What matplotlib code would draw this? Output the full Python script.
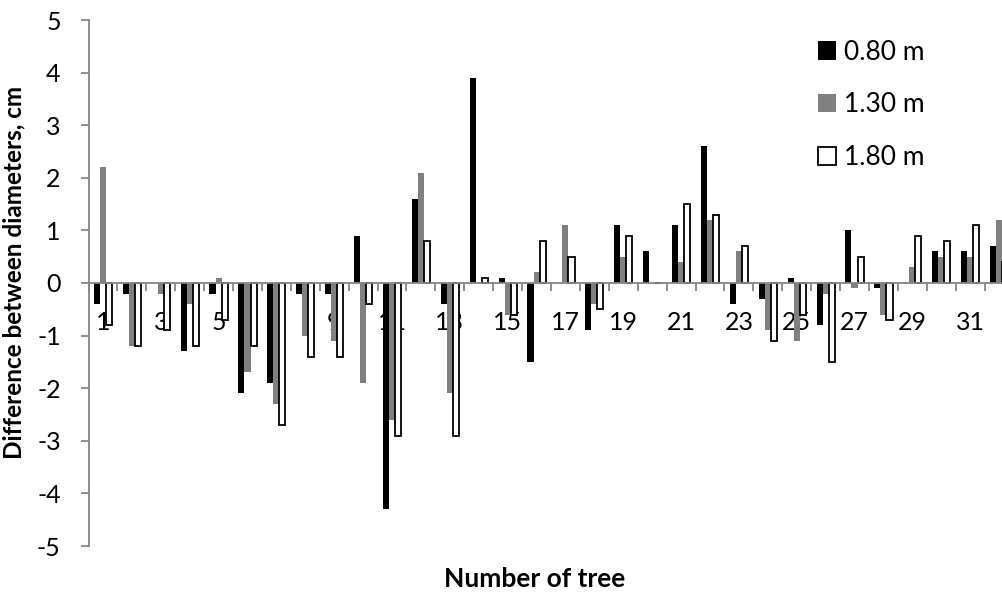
import numpy as np
import matplotlib.pyplot as plt
from matplotlib.ticker import FixedLocator, NullFormatter

plt.rcParams['font.family'] = ['Lato', 'DejaVu Sans']
plt.rcParams['axes.unicode_minus'] = False

trees = list(range(1, 33))
d080 = [-0.4, -0.2, 0.0, -1.3, -0.2, -2.1, -1.9, -0.2, -0.2, 0.9,
        -4.3, 1.6, -0.4, 3.9, 0.1, -1.5, 0.0, -0.9, 1.1, 0.6,
        1.1, 2.6, -0.4, -0.3, 0.1, -0.8, 1.0, -0.1, 0.0, 0.6,
        0.6, 0.7]
d130 = [2.2, -1.2, -0.2, -0.4, 0.1, -1.7, -2.3, -1.0, -1.1, -1.9,
        -2.6, 2.1, -2.1, 0.0, -0.6, 0.2, 1.1, -0.4, 0.5, 0.0,
        0.4, 1.2, 0.6, -0.9, -1.1, -0.2, -0.1, -0.6, 0.3, 0.5,
        0.5, 1.2]
d180 = [-0.8, -1.2, -0.9, -1.2, -0.7, -1.2, -2.7, -1.4, -1.4, -0.4,
        -2.9, 0.8, -2.9, 0.1, -0.6, 0.8, 0.5, -0.5, 0.9, 0.0,
        1.5, 1.3, 0.7, -1.1, -0.6, -1.5, 0.5, -0.7, 0.9, 0.8,
        1.1, 0.4]
tick_labels = [str(t) for t in trees if t % 2 == 1]

fig = plt.figure(figsize=(10.03, 5.94), dpi=100)
# axes run a bit past the right edge, like the cropped original
ax = fig.add_axes([88.5 / 1003, 1 - 546 / 594, 925 / 1003, 526 / 594])

x = np.array(trees, dtype=float)
w = 0.21
ax.bar(x - w, d080, w, color='black', label='0.80 m', zorder=2)
ax.bar(x, d130, w, color='#808080', label='1.30 m', zorder=2)
ax.bar(x + w, d180, w, color='white', edgecolor='black', linewidth=1.3,
       label='1.80 m', zorder=2)

ax.set_xlim(0.5, 32.5)
ax.set_ylim(-5, 5)
ax.set_yticks(range(-5, 6))
ax.tick_params(axis='y', direction='out', length=6, color='#868686',
               width=1.3, labelsize=18, pad=14)

for s in ['top', 'right']:
    ax.spines[s].set_visible(False)
ax.spines['left'].set_color('#868686')
ax.spines['left'].set_linewidth(1.3)
ax.spines['bottom'].set_position(('data', 0))
ax.spines['bottom'].set_color('#868686')
ax.spines['bottom'].set_linewidth(1.3)
ax.spines['bottom'].set_zorder(3)

ax.xaxis.set_major_locator(FixedLocator([t for t in trees if t % 2 == 1]))
ax.set_xticklabels(tick_labels)
ax.xaxis.set_minor_locator(FixedLocator(np.arange(0.5, 33, 1)))
ax.xaxis.set_minor_formatter(NullFormatter())
ax.tick_params(axis='x', which='major', length=0, labelsize=18, pad=20)
ax.tick_params(axis='x', which='minor', direction='out', length=6,
               color='#868686', width=1.3)

ax.set_ylabel('Difference between diameters, cm', fontsize=17.5,
              fontweight='bold')
ax.yaxis.set_label_coords(-0.068, 0.52)
ax.set_xlabel('Number of tree', fontsize=19, fontweight='bold')
ax.xaxis.set_label_coords((535 - 88.5) / 925, -0.04)

leg = ax.legend(loc='upper left', bbox_to_anchor=(794 / 1003, 1 - 16 / 594),
                bbox_transform=fig.transFigure, frameon=False, fontsize=19,
                handlelength=0.7, handleheight=0.7, handletextpad=0.3,
                labelspacing=1.05)

fig.savefig('out.png', dpi=100)
